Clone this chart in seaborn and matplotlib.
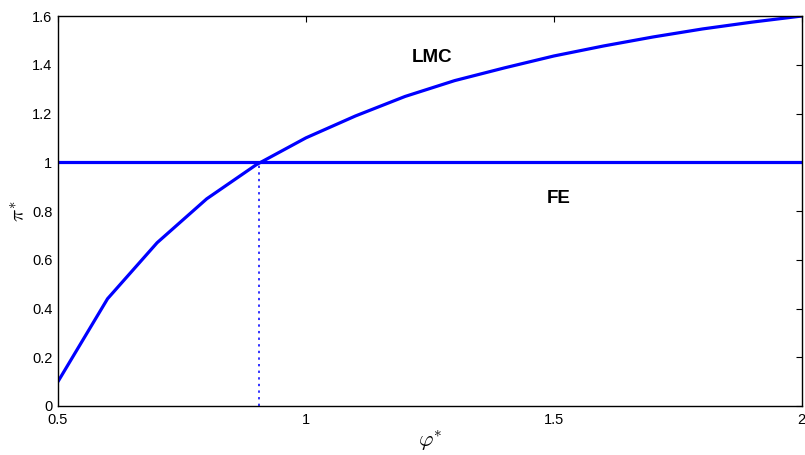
import numpy as np
import pandas as pd
import matplotlib
matplotlib.use("Agg")
import matplotlib.pyplot as plt
import seaborn as sns

phi = [0.5, 0.6, 0.7, 0.8, 0.9, 1.0, 1.1, 1.2, 1.3, 1.4, 1.5, 1.6, 1.7, 1.8, 1.9, 2.0]
pi_lmc = [0.10, 0.44, 0.67, 0.85, 0.99, 1.10, 1.19, 1.27, 1.335, 1.387, 1.436, 1.477, 1.514, 1.547, 1.575, 1.60]
fe_level = 1.0
phi_cross = 0.905
xticks = [0.5, 1, 1.5, 2]
xticklabels = ["0.5", "1", "1.5", "2"]
yticks = [0, 0.2, 0.4, 0.6, 0.8, 1.0, 1.2, 1.4, 1.6]
yticklabels = ["0", "0.2", "0.4", "0.6", "0.8", "1", "1.2", "1.4", "1.6"]

sns.set_style("white")
plt.rcParams['font.family'] = ['Liberation Sans', 'DejaVu Sans']
plt.rcParams['mathtext.fontset'] = 'cm'
plt.rcParams['text.color'] = 'black'
plt.rcParams['axes.labelcolor'] = 'black'

fig = plt.figure(figsize=(8.05, 4.55), dpi=100)
ax = fig.add_axes([0.072, 0.1077, 0.924, 0.8571])

df = pd.DataFrame({"phi": phi, "pi": pi_lmc})
sns.lineplot(data=df, x="phi", y="pi", ax=ax, color="#0000ff", linewidth=2.3)
ax.axhline(fe_level, color="#0000ff", linewidth=2.3)
ax.plot([phi_cross, phi_cross], [0, fe_level], color="#3333ff", linestyle=(0, (1.2, 2.2)), linewidth=1.4)

ax.set_xlim(0.5, 2)
ax.set_ylim(0, 1.6)
ax.set_xticks(xticks)
ax.set_xticklabels(xticklabels)
ax.set_yticks(yticks)
ax.set_yticklabels(yticklabels)
ax.tick_params(direction="in", length=4, width=0.8, top=True, right=True, labelsize=10.5, colors="black")
ax.tick_params(axis="x", pad=5)
ax.tick_params(axis="y", pad=4)
for s in ax.spines.values():
    s.set_visible(True)
    s.set_color("black")
    s.set_linewidth(1.0)

ax.set_xlabel(r"$\varphi^{*}$", fontsize=16, labelpad=1)
ax.set_ylabel(r"$\pi^{*}$", fontsize=15, labelpad=2)

ax.text(1.255, 1.43, "LMC", fontsize=13.5, fontweight="bold", ha="center", va="center", color="black")
ax.text(1.51, 0.853, "FE", fontsize=13.5, fontweight="bold", ha="center", va="center", color="black")

fig.savefig("out.png", dpi=100)
